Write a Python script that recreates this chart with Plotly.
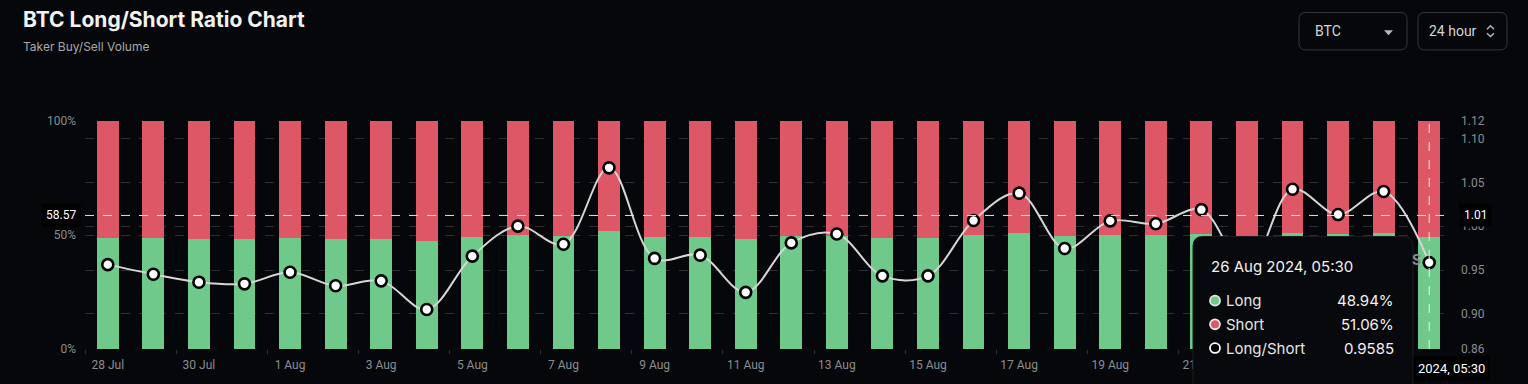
import plotly.graph_objects as go

# ---------------- data ----------------
categories = ["28 Jul", "29 Jul", "30 Jul", "31 Jul", "1 Aug", "2 Aug", "3 Aug", "4 Aug", "5 Aug", "6 Aug",
              "7 Aug", "8 Aug", "9 Aug", "10 Aug", "11 Aug", "12 Aug", "13 Aug", "14 Aug", "15 Aug", "16 Aug",
              "17 Aug", "18 Aug", "19 Aug", "20 Aug", "21 Aug", "22 Aug", "23 Aug", "24 Aug", "25 Aug", "26 Aug"]
long_pct = [48.88, 48.59, 48.35, 48.30, 48.65, 48.24, 48.39, 47.51, 49.13, 50.00,
            49.48, 51.61, 49.07, 49.16, 48.04, 49.52, 49.78, 48.54, 48.54, 50.16,
            50.93, 49.36, 50.15, 50.07, 50.47, 48.72, 51.03, 50.33, 50.97, 48.94]
short_pct = [round(100 - v, 2) for v in long_pct]
ratio = [0.9562, 0.9453, 0.9362, 0.9343, 0.9475, 0.9321, 0.9377, 0.9050, 0.9659, 1.0001,
         0.9795, 1.0666, 0.9633, 0.9670, 0.9246, 0.9810, 0.9911, 0.9434, 0.9434, 1.0065,
         1.0377, 0.9746, 1.0061, 1.0028, 1.0189, 0.9500, 1.0422, 1.0133, 1.0396, 0.9585]
left_ticks = [0, 50, 100]
left_ticktext = ["0%", "50%", "100%"]
right_ticks = [0.86, 0.90, 0.95, 1.00, 1.05, 1.10, 1.12]
crosshair_left = 58.57
crosshair_right = "1.01"
hover_label = "26 Aug 2024, 05:30"

# ---------------- style ----------------
BG = "#06070a"
RED = "#de5766"
GREEN = "#6ec98b"
GRID = "#2c2e33"
TICK = "#8c8d91"
W, H = 1528, 384
PL, PR, PT, PB = 85, 1452, 121, 352


def px(x):
    return (x - PL) / (PR - PL)


def py(y):
    return (PB - y) / (PB - PT)


def rrect(x0, y0, x1, y1, r):
    rx = r / (PR - PL)
    ry = r / (PB - PT)
    X0, X1, Y0, Y1 = px(x0), px(x1), py(y0), py(y1)
    return (f"M {X0+rx},{Y0} L {X1-rx},{Y0} Q {X1},{Y0} {X1},{Y0-ry} "
            f"L {X1},{Y1+ry} Q {X1},{Y1} {X1-rx},{Y1} L {X0+rx},{Y1} "
            f"Q {X0},{Y1} {X0},{Y1+ry} L {X0},{Y0-ry} Q {X0},{Y0} {X0+rx},{Y0} Z")


fig = go.Figure()
fig.add_trace(go.Bar(x=categories, y=long_pct, marker=dict(color=GREEN, line=dict(width=0)),
                     width=0.48, name="Long", yaxis="y"))
fig.add_trace(go.Bar(x=categories, y=short_pct, marker=dict(color=RED, line=dict(width=0)),
                     width=0.48, name="Short", yaxis="y"))
fig.add_trace(go.Scatter(x=categories, y=ratio, yaxis="y2", mode="lines+markers", name="Long/Short",
                         line=dict(color="#d6d6d6", width=2, shape="spline", smoothing=1.0),
                         marker=dict(size=11, color="#ffffff", line=dict(color="#000000", width=2.6))))

shapes = []
shapes.append(dict(type="line", xref="paper", yref="y", x0=0, x1=1, y0=crosshair_left, y1=crosshair_left,
                   line=dict(color="#e0e0e0", width=1, dash="dash"), layer="above"))
shapes.append(dict(type="line", xref="x", yref="paper", x0=len(categories) - 1, x1=len(categories) - 1, y0=0, y1=1,
                   line=dict(color="#f0f0f0", width=1, dash="dash"), layer="above"))
shapes.append(dict(type="path", xref="paper", yref="paper", path=rrect(1193, 238, 1413, 420, 10),
                   fillcolor="#08090c", line=dict(color="#1c1d22", width=1), layer="above"))
dot_rows = [(303, GREEN, "#e8e8e8"), (327, RED, "#e8e8e8"), (351, "#000000", "#ffffff")]
for yy, fc, lc in dot_rows:
    shapes.append(dict(type="circle", xref="paper", yref="paper",
                       x0=px(1210), x1=px(1220), y0=py(yy + 5), y1=py(yy - 5),
                       fillcolor=fc, line=dict(color=lc, width=1.8), layer="above"))
shapes.append(dict(type="path", xref="paper", yref="paper", path=rrect(1299, 11, 1407, 49, 7),
                   fillcolor=BG, line=dict(color="#34363b", width=1)))
shapes.append(dict(type="path", xref="paper", yref="paper", path=rrect(1418, 11, 1507, 49, 7),
                   fillcolor=BG, line=dict(color="#34363b", width=1)))
shapes.append(dict(type="path", xref="paper", yref="paper",
                   path=f"M {px(1384)},{py(29)} L {px(1393)},{py(29)} L {px(1388.5)},{py(34)} Z",
                   fillcolor="#b8b8b8", line=dict(width=0)))
shapes.append(dict(type="path", xref="paper", yref="paper",
                   path=f"M {px(1487)},{py(28)} L {px(1490.5)},{py(24.5)} L {px(1494)},{py(28)}",
                   line=dict(color="#b8b8b8", width=1.4)))
shapes.append(dict(type="path", xref="paper", yref="paper",
                   path=f"M {px(1487)},{py(32)} L {px(1490.5)},{py(35.5)} L {px(1494)},{py(32)}",
                   line=dict(color="#b8b8b8", width=1.4)))

FT = "Inter, Roboto, sans-serif"
ann = []
ann.append(dict(text="<b>BTC Long/Short Ratio Chart</b>", xref="paper", yref="paper", x=px(21), y=py(18),
                xanchor="left", yanchor="middle", showarrow=False, font=dict(family=FT, size=21, color="#f2f2f2")))
ann.append(dict(text="Taker Buy/Sell Volume", xref="paper", yref="paper", x=px(21), y=py(46),
                xanchor="left", yanchor="middle", showarrow=False, font=dict(family=FT, size=12, color="#a6a7ab")))
ann.append(dict(text="BTC", xref="paper", yref="paper", x=px(1313), y=py(30), xanchor="left", yanchor="middle",
                showarrow=False, font=dict(family="Roboto", size=14, color="#d4d4d4")))
ann.append(dict(text="24 hour", xref="paper", yref="paper", x=px(1427), y=py(30), xanchor="left", yanchor="middle",
                showarrow=False, font=dict(family="Roboto", size=14, color="#d4d4d4")))
ann.append(dict(text=f"{crosshair_left:.2f}", xref="paper", yref="y", x=px(81), y=crosshair_left,
                xanchor="right", yanchor="middle", showarrow=False, bgcolor="#000000", borderpad=4,
                font=dict(family="Roboto", size=12, color="#ffffff")))
ann.append(dict(text=crosshair_right, xref="paper", yref="y", x=px(1459), y=crosshair_left,
                xanchor="left", yanchor="middle", showarrow=False, bgcolor="#000000", borderpad=4,
                font=dict(family="Roboto", size=12, color="#ffffff")))
ann.append(dict(text=hover_label.split(" ", 2)[2], xref="paper", yref="paper", x=px(1413), y=py(372),
                xanchor="left", yanchor="middle", showarrow=False, bgcolor="#000000", borderpad=4,
                font=dict(family="Roboto", size=13, color="#ffffff")))
ann.append(dict(text="<b>S</b>", xref="paper", yref="paper", x=px(1416), y=py(261),
                xanchor="center", yanchor="middle", showarrow=False, font=dict(family=FT, size=14, color="#8a8a8a")))
ann.append(dict(text=hover_label, xref="paper", yref="paper", x=px(1209), y=py(268), xanchor="left",
                yanchor="middle", showarrow=False, font=dict(family=FT, size=15, color="#f2f2f2")))
rows = [("Long", f"{long_pct[-1]:.2f}%", 303), ("Short", f"{short_pct[-1]:.2f}%", 327),
        ("Long/Short", f"{ratio[-1]:.4f}", 351)]
for lab, val, yy in rows:
    ann.append(dict(text=lab, xref="paper", yref="paper", x=px(1224), y=py(yy), xanchor="left", yanchor="middle",
                    showarrow=False, font=dict(family=FT, size=15, color="#e6e6e6")))
    ann.append(dict(text=val, xref="paper", yref="paper", x=px(1396), y=py(yy), xanchor="right",
                    yanchor="middle", showarrow=False, font=dict(family=FT, size=15, color="#f2f2f2")))

fig.update_layout(
    width=W, height=H, paper_bgcolor=BG, plot_bgcolor=BG,
    margin=dict(l=PL, r=W - PR, t=PT, b=H - PB, pad=0),
    barmode="stack", showlegend=False, hovermode=False,
    shapes=shapes, annotations=ann,
    xaxis=dict(type="category", categoryorder="array", categoryarray=categories,
               range=[-0.5, len(categories) - 0.5], tickvals=categories[::2], tickangle=0,
               ticks="outside", ticklen=4, tickcolor="#2c2e33", tickson="boundaries",
               tickfont=dict(family="Roboto", size=12, color=TICK), showgrid=False, zeroline=False,
               showline=False, ticklabelstandoff=7, fixedrange=True),
    yaxis=dict(range=[0, 100], tickvals=left_ticks, ticktext=left_ticktext, showgrid=True,
               gridcolor=GRID, griddash="dash", gridwidth=1, zeroline=False, showline=False,
               tickfont=dict(family="Roboto", size=12, color=TICK), ticklabelstandoff=8, fixedrange=True),
    yaxis2=dict(range=[0.86, 1.12], tickvals=right_ticks, ticktext=[f"{v:.2f}" for v in right_ticks],
                overlaying="y", side="right", showgrid=True, gridcolor=GRID, griddash="dash", gridwidth=1,
                zeroline=False, showline=False, tickfont=dict(family="Roboto", size=12, color=TICK),
                ticklabelstandoff=8, fixedrange=True),
)

fig.write_html("out.html", config=dict(displayModeBar=False),
               post_script="document.body.style.margin='0';document.body.style.background='#06070a';"
                           "document.documentElement.style.background='#06070a';")
